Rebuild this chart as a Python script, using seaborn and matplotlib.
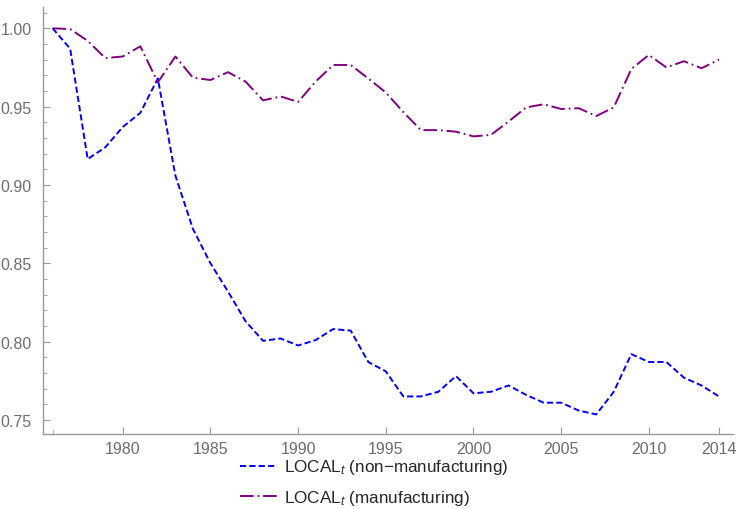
import numpy as np
import pandas as pd
import seaborn as sns
import matplotlib.pyplot as plt
from matplotlib.ticker import MultipleLocator, FixedLocator

years = list(range(1976, 2015))

non_manufacturing = [
    1.000, 0.987, 0.9165, 0.924, 0.937, 0.946, 0.968, 0.906, 0.872, 0.850,
    0.832, 0.813, 0.8005, 0.802, 0.7975, 0.801, 0.808, 0.807, 0.787, 0.781,
    0.765, 0.765, 0.768, 0.778, 0.767, 0.768, 0.772, 0.766, 0.761, 0.761,
    0.756, 0.7535, 0.768, 0.792, 0.787, 0.787, 0.777, 0.772, 0.765,
]
manufacturing = [
    1.000, 0.9995, 0.992, 0.981, 0.982, 0.9885, 0.9655, 0.982, 0.9685, 0.967,
    0.972, 0.966, 0.954, 0.9565, 0.953, 0.966, 0.9766, 0.9766, 0.968, 0.959,
    0.9465, 0.935, 0.935, 0.934, 0.931, 0.932, 0.9405, 0.9495, 0.9515, 0.9485,
    0.949, 0.944, 0.9495, 0.974, 0.983, 0.975, 0.979, 0.9745, 0.980,
]

labels = [r"LOCAL$_t$ (non−manufacturing)", r"LOCAL$_t$ (manufacturing)"]
colors = {labels[0]: "#0000ff", labels[1]: "#800080"}
dashes = {labels[0]: (3.2, 1.6), labels[1]: (7, 2, 0.9, 2)}

df = pd.concat([
    pd.DataFrame({"year": years, "value": non_manufacturing, "series": labels[0]}),
    pd.DataFrame({"year": years, "value": manufacturing, "series": labels[1]}),
])

sns.set_theme(style="white")
plt.rcParams["font.family"] = ["Liberation Sans", "DejaVu Sans"]
plt.rcParams["mathtext.fontset"] = "custom"
plt.rcParams["mathtext.rm"] = "Liberation Sans"
plt.rcParams["mathtext.it"] = "Liberation Sans:italic"

fig = plt.figure(figsize=(7.37, 5.10), dpi=100)
ax = fig.add_axes([0.0583, 0.147, 0.9363, 0.837])

lw = 1.4
sns.lineplot(data=df, x="year", y="value", hue="series", style="series",
             palette=colors, dashes=dashes, linewidth=lw, ax=ax, legend=False)

ax.set_xlim(1975.45, 2014.8)
ax.set_ylim(0.741, 1.0135)
ax.set_xlabel("")
ax.set_ylabel("")

axis_col = "#9a9a9a"
label_col = "#6e6e6e"
for side in ["top", "right"]:
    ax.spines[side].set_visible(False)
for side in ["left", "bottom"]:
    ax.spines[side].set_color(axis_col)
    ax.spines[side].set_linewidth(1.0)

ax.xaxis.set_major_locator(FixedLocator([1980, 1985, 1990, 1995, 2000, 2005, 2010, 2014]))
ax.xaxis.set_minor_locator(FixedLocator([1976]))
ax.yaxis.set_major_locator(FixedLocator([0.75, 0.80, 0.85, 0.90, 0.95, 1.00]))
ax.yaxis.set_minor_locator(FixedLocator([v / 100 for v in range(74, 102) if v % 5 != 0]))
ax.yaxis.set_major_formatter(plt.FuncFormatter(lambda v, p: f"{v:.2f}"))

ax.tick_params(axis="both", which="both", direction="in", color=axis_col,
               labelcolor=label_col, labelsize=11.5, left=True, bottom=True)
ax.tick_params(axis="both", which="major", length=5, width=0.8)
ax.tick_params(axis="both", which="minor", length=3, width=0.6)
ax.tick_params(axis="x", which="major", pad=5)
ax.tick_params(axis="y", which="major", pad=8)
ax.grid(False)

handles = [
    plt.Line2D([], [], color=colors[labels[0]], linewidth=lw, linestyle=(0, dashes[labels[0]])),
    plt.Line2D([], [], color=colors[labels[1]], linewidth=lw, linestyle=(0, dashes[labels[1]])),
]
fig.legend(handles, labels, loc="upper left", bbox_to_anchor=(0.3256, 0.101),
           frameon=False, fontsize=12.3, handlelength=2.15, handletextpad=0.45,
           labelspacing=0.7, borderaxespad=0, borderpad=0)

fig.savefig("out.png", dpi=100)
plt.close()
